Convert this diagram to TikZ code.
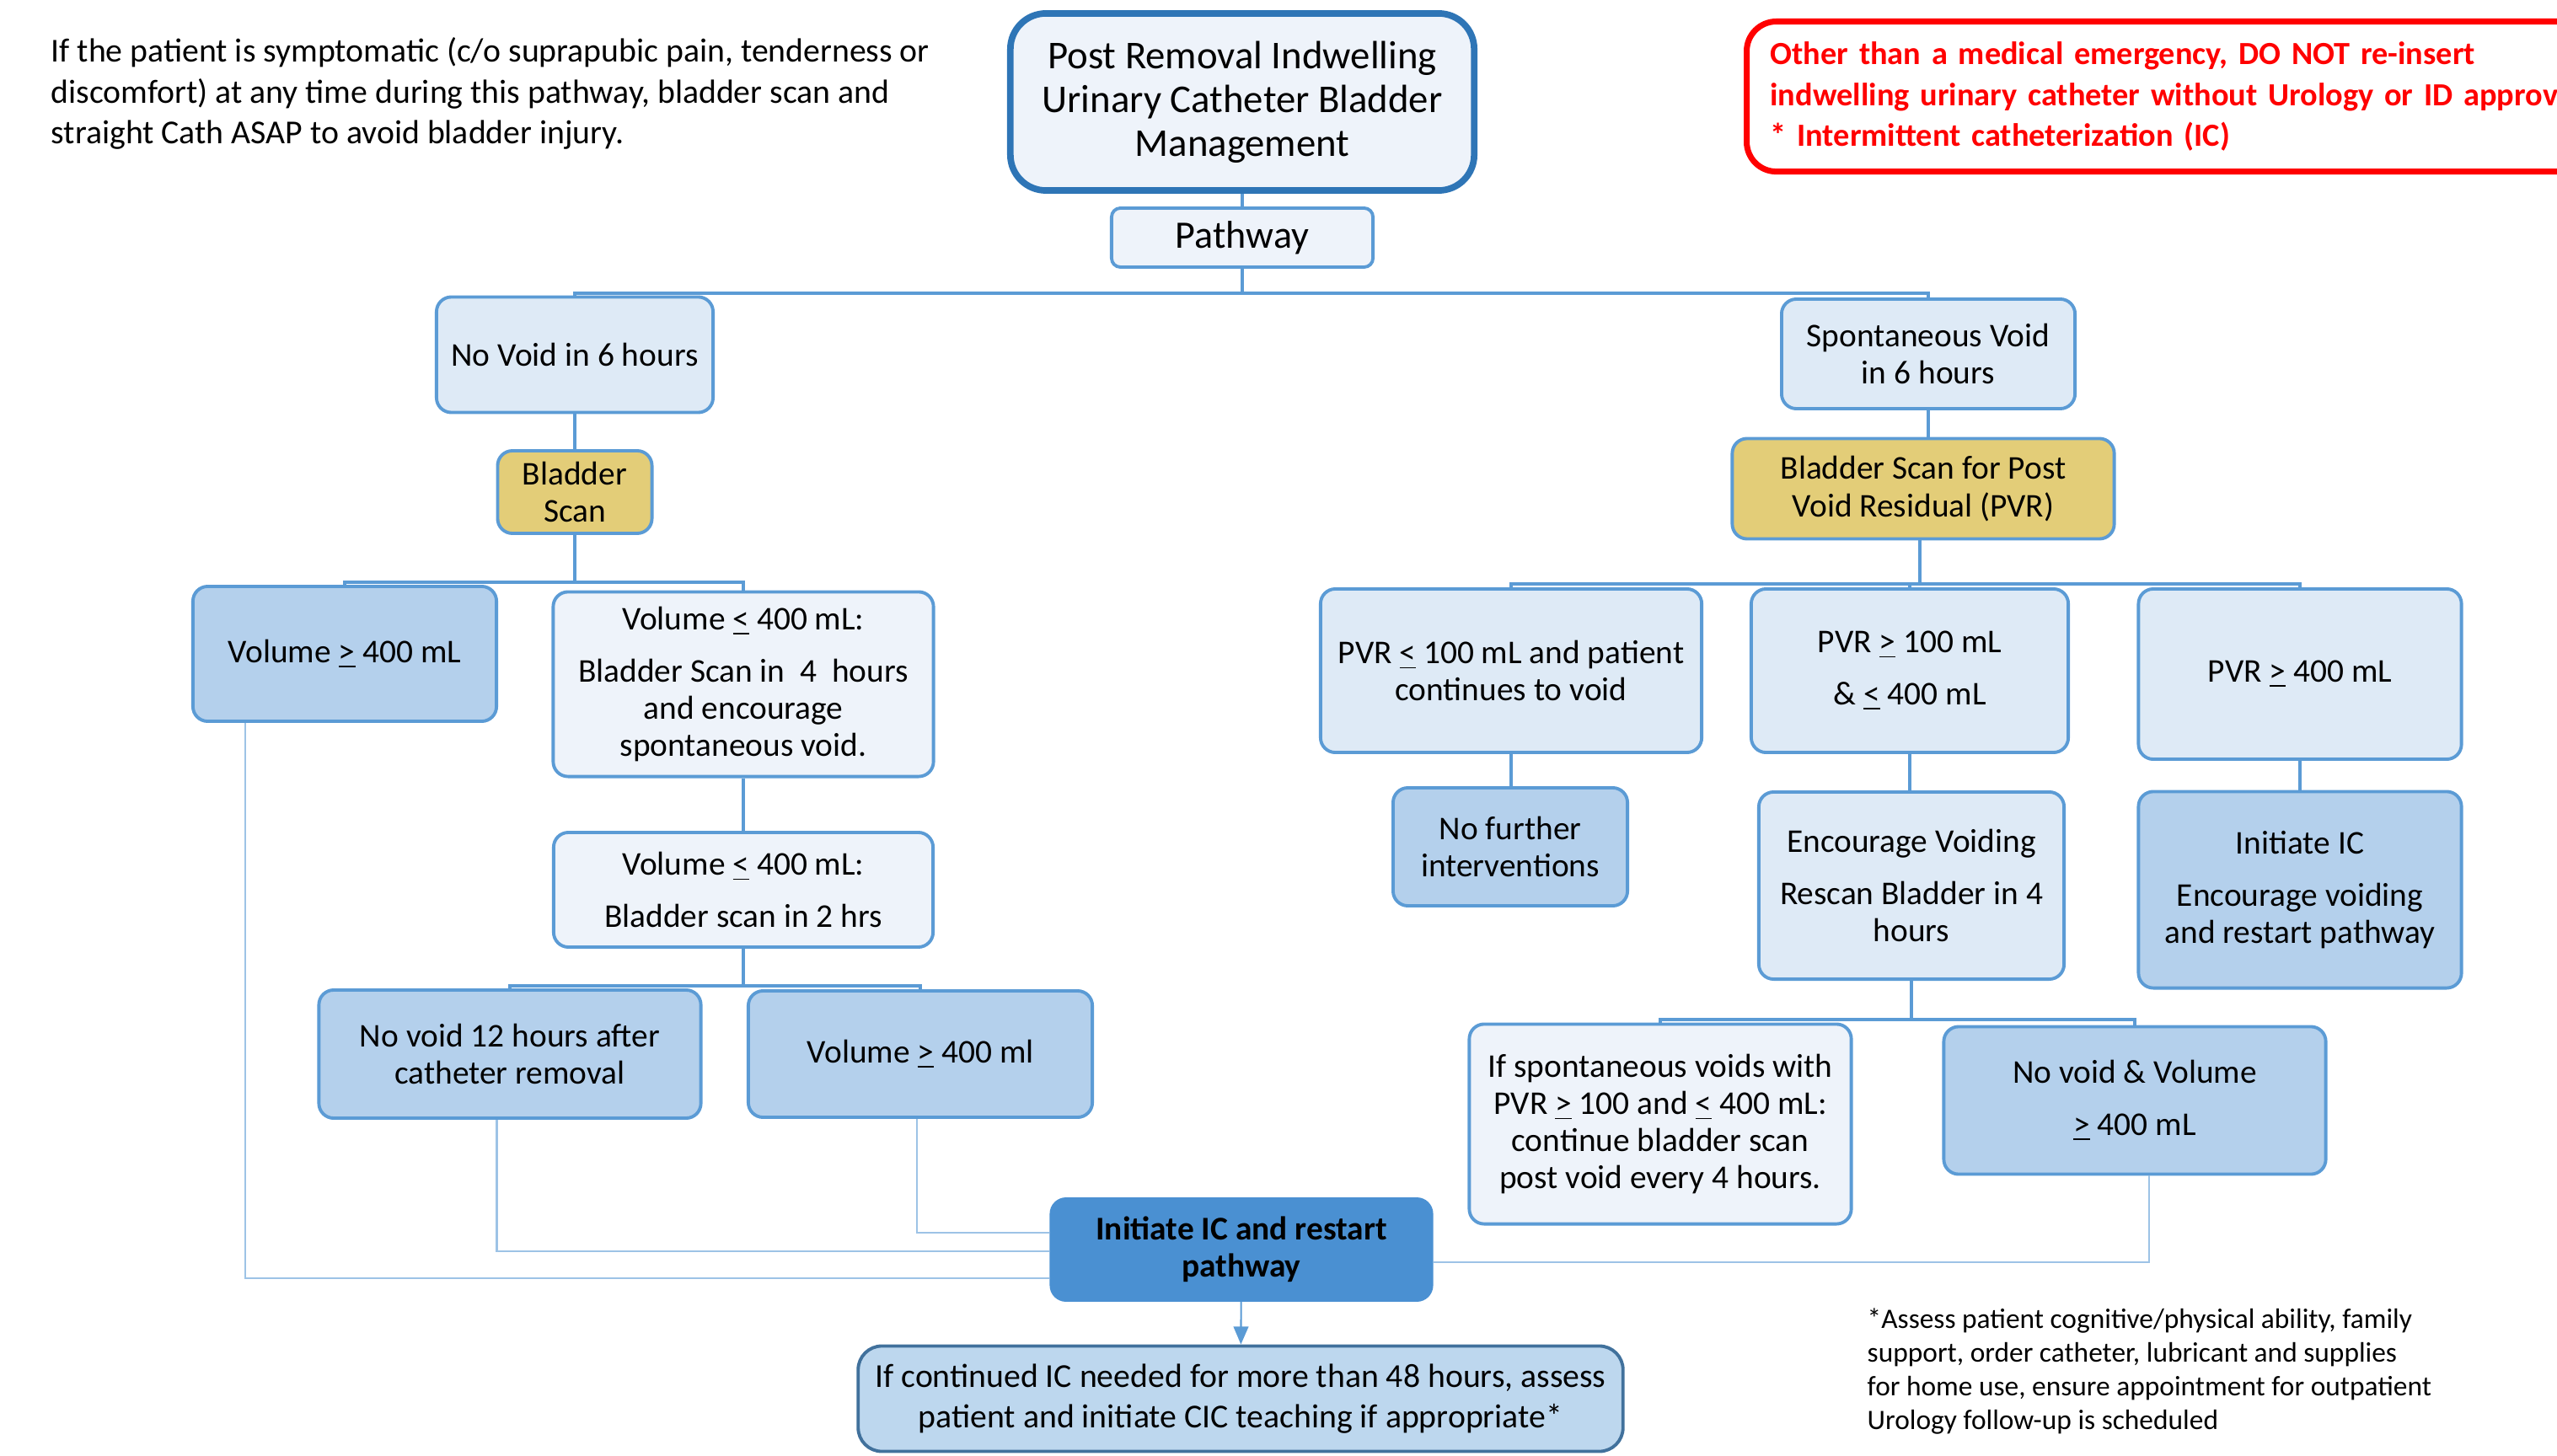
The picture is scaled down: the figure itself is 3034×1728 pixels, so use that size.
\documentclass[tikz,border=0pt]{standalone}
\usepackage{fontspec}
\setmainfont{Carlito}
\usetikzlibrary{arrows.meta,calc}
\definecolor{edgeblue}{HTML}{5B9BD5}
\definecolor{titleblue}{HTML}{2E75B6}
\definecolor{paleblue}{HTML}{EEF3FA}
\definecolor{liteblue}{HTML}{DEEAF6}
\definecolor{midblue}{HTML}{B4D0EC}
\definecolor{deepblue}{HTML}{4A90D2}
\definecolor{cicblue}{HTML}{BDD7EE}
\definecolor{cicedge}{HTML}{41719C}
\definecolor{scangold}{HTML}{E3CD78}
\definecolor{backline}{HTML}{9DC3E6}
\definecolor{warnred}{HTML}{FF0000}
\newcommand{\ule}{\underline{<}}
\newcommand{\uge}{\underline{>}}

\begin{document}
\begin{tikzpicture}[x=0.01cm,y=-0.01cm,>=Stealth,
  box/.style={draw=edgeblue,line width=1.1pt,rounded corners=5pt,align=center,inner sep=2pt,
    font=\fontsize{11.2}{12.6}\selectfont},
  pale/.style={box,fill=paleblue},
  lite/.style={box,fill=liteblue},
  mid/.style={box,fill=midblue},
  gold/.style={box,fill=scangold},
  link/.style={draw=edgeblue,line width=1pt},
  back/.style={draw=backline,line width=0.8pt}]
\useasboundingbox (0,0) rectangle (3034,1728);

% notes
\node[anchor=north west,inner sep=0,align=left,font=\fontsize{11.3}{13.8}\selectfont] (note) at (60,44)
  {If the patient is symptomatic (c/o suprapubic pain, tenderness or\\
   discomfort) at any time during this pathway, bladder scan and\\
   straight Cath ASAP to avoid bladder injury.};
\node[anchor=north west,draw=warnred,line width=2pt,rounded corners=10pt,text=warnred,align=left,
  text width=10cm,inner xsep=0.28cm,minimum height=1.78cm,font=\bfseries\fontsize{10.9}{13.7}\selectfont] (warn) at (2069,22)
  {Other than a medical emergency, DO NOT re-insert\\
   indwelling urinary catheter without Urology or ID approval\\
   {*} Intermittent catheterization (IC)};
\node[anchor=north west,inner sep=0,align=left,font=\fontsize{9.5}{11.4}\selectfont] (foot) at (2215,1552)
  {*Assess patient cognitive/physical ability, family\\
   support, order catheter, lubricant and supplies\\
   for home use, ensure appointment for outpatient\\
   Urology follow-up is scheduled};

% top
\node[pale,draw=titleblue,line width=2.2pt,rounded corners=12pt,minimum width=5.5cm,minimum height=2.1cm,
  font=\fontsize{13.3}{14.8}\selectfont] (title) at (1474,121) {Post Removal Indwelling\\Urinary Catheter Bladder\\Management};
\node[pale,rounded corners=3pt,minimum width=3.1cm,minimum height=0.7cm,font=\fontsize{13.1}{15}\selectfont] (path) at (1474,282) {Pathway};

% left branch
\node[lite,minimum width=3.28cm,minimum height=1.37cm] (novoid) at (682,421) {No Void in 6 hours};
\node[gold,minimum width=1.83cm,minimum height=0.98cm] (bscan) at (682,584) {Bladder\\Scan};
\node[mid,minimum width=3.6cm,minimum height=1.6cm] (vge) at (409,776) {Volume \uge{} 400 mL};
\node[pale,minimum width=4.51cm,minimum height=2.19cm] (vle1) at (882,812)
  {Volume \ule{} 400 mL:\\[5pt] Bladder Scan in~ 4~ hours\\ and encourage\\ spontaneous void.};
\node[pale,minimum width=4.5cm,minimum height=1.36cm] (vle2) at (882,1056)
  {Volume \ule{} 400 mL:\\[5pt] Bladder scan in 2 hrs};
\node[mid,minimum width=4.53cm,minimum height=1.52cm] (nv12) at (605,1251) {No void 12 hours after\\catheter removal};
\node[mid,minimum width=4.08cm,minimum height=1.5cm] (vge2) at (1092,1251) {Volume \uge{} 400 ml};

% right branch
\node[lite,minimum width=3.48cm,minimum height=1.3cm] (spont) at (2288,420) {Spontaneous Void\\in 6 hours};
\node[gold,minimum width=4.53cm,minimum height=1.19cm] (bscanpvr) at (2282,580) {Bladder Scan for Post\\Void Residual (PVR)};
\node[lite,minimum width=4.52cm,minimum height=1.94cm] (pvr1) at (1793,796) {PVR \ule{} 100 mL and patient\\continues to void};
\node[lite,minimum width=3.76cm,minimum height=1.94cm] (pvr2) at (2266,796) {PVR \uge{} 100 mL\\[5pt] \& \ule{} 400 mL};
\node[lite,minimum width=3.83cm,minimum height=2.02cm] (pvr3) at (2729,800) {PVR \uge{} 400 mL};
\node[mid,minimum width=2.78cm,minimum height=1.4cm] (nofur) at (1792,1005) {No further\\interventions};
\node[lite,minimum width=3.62cm,minimum height=2.22cm] (encv) at (2268,1051)
  {Encourage Voiding\\[5pt] Rescan Bladder in 4\\hours};
\node[mid,minimum width=3.83cm,minimum height=2.33cm] (icenc) at (2729,1056)
  {Initiate IC\\[5pt] Encourage voiding\\and restart pathway};
\node[pale,minimum width=4.53cm,minimum height=2.37cm] (ifspont) at (1970,1334)
  {If spontaneous voids with\\PVR \uge{} 100 and \ule{} 400 mL:\\continue bladder scan\\post void every 4 hours.};
\node[mid,minimum width=4.53cm,minimum height=1.75cm] (nvvol) at (2533,1306) {No void \& Volume\\[5pt] \uge{} 400 mL};

% bottom
\node[box,fill=deepblue,draw=deepblue,minimum width=4.51cm,minimum height=1.2cm,font=\bfseries\fontsize{11.2}{12.6}\selectfont] (initic) at (1473,1483)
  {Initiate IC and restart\\pathway};
\node[box,fill=cicblue,draw=cicedge,rounded corners=8pt,minimum width=9.07cm,minimum height=1.25cm,font=\fontsize{11.3}{13.5}\selectfont] (cic) at (1472,1660)
  {If continued IC needed for more than 48 hours, assess\\patient and initiate CIC teaching if appropriate*};

% tree lines
\coordinate (topbus) at (1474,348);
\draw[link] (title) -- (path);
\draw[link] (path) -- (topbus);
\draw[link] (novoid.north) |- (topbus) -| (spont.north);
\draw[link] (novoid) -- (bscan);
\draw[link] (spont.south) -- (spont.south |- bscanpvr.north);
\coordinate (lbus) at (682,691);
\draw[link] (bscan) -- (lbus);
\draw[link] (vge.north) |- (lbus) -| (vle1.north);
\draw[link] (vle1) -- (vle2);
\coordinate (mbus) at (882,1170);
\draw[link] (vle2) -- (mbus);
\draw[link] (nv12.north) |- (mbus) -| (vge2.north);
\coordinate (rbus) at (2278,693);
\draw[link] (bscanpvr.south -| rbus) -- (rbus);
\draw[link] (pvr1.north) |- (rbus) -| (pvr3.north);
\draw[link] (pvr2.north) -- (pvr2.north |- rbus);
\draw[link] (pvr1.south) -- (pvr1.south |- nofur.north);
\draw[link] (pvr2.south) -- (pvr2.south |- encv.north);
\draw[link] (pvr3.south) -- (pvr3.south |- icenc.north);
\coordinate (ebus) at (2268,1210);
\draw[link] (encv) -- (ebus);
\draw[link] (ifspont.north) |- (ebus) -| (nvvol.north);

% back to IC
\draw[back] ($(vge.south west)+(64,0)$) |- ($(initic.west)+(0,34)$);
\draw[back] ($(nv12.south west)+(213,0)$) |- ($(initic.west)+(0,2)$);
\draw[back] ($(vge2.south)+(-4,0)$) |- ($(initic.west)+(0,-20)$);
\draw[back] ($(nvvol.south)+(17,0)$) |- ($(initic.east)+(0,15)$);
\draw[link,line width=0.6pt,-{Triangle[length=6pt,width=5pt]}] (initic) -- (cic);
\end{tikzpicture}
\end{document}
